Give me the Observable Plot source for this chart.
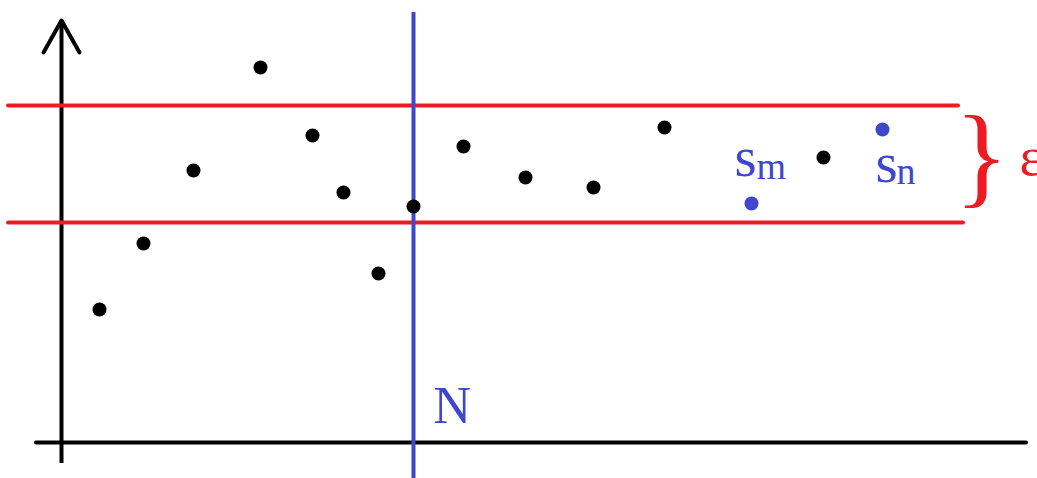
<!DOCTYPE html>
<html>
<head>
<meta charset="utf-8">
<script src="https://cdn.jsdelivr.net/npm/d3@7"></script>
<script src="https://cdn.jsdelivr.net/npm/@observablehq/plot@0.6"></script>
<style>
  html, body { margin: 0; padding: 0; background: #fff; }
  #chart svg { display: block; }
</style>
</head>
<body>
<div id="chart"></div>
<script>
// Sequence terms (position n, value s_n) in chart units (x-axis at value 0)
const seqN = [99, 143, 193, 260, 312, 343, 378, 413, 463, 525, 593, 664, 823];
const seqS = [133, 199, 272, 375, 307, 250, 169, 236, 296, 265, 255, 315, 285];

// Highlighted terms s_m and s_n
const hiLabels = ["s_m", "s_n"];
const hiN = [751, 882];
const hiS = [239, 313];

// Epsilon band (upper and lower limits)
const bandValues = [337, 220];
const bandStart = [8, 8];
const bandEnd = [958, 963];

// Index N
const indexN = 413;

// Axis extents
const xAxisRange = [36, 1026];
const yAxisRange = [-21, 422];
const arrowHead = [[43, 390], [61, 422], [79, 390]];

// Annotation anchors
const nLabel = {text: "N", x: 433, y: 20};
const mainLetters = [{t: "s", x: 734, y: 267}, {t: "s", x: 875, y: 261}];
const subLetters = [{t: "m", x: 756, y: 264}, {t: "n", x: 896, y: 259}];
const braceLabel = {text: "}", x: 981, y: 250};
const epsLabel = {text: "ε", x: 1019, y: 268};

const red = "#ed1c24";
const blue = "#3f48cc";
const serif = "'Liberation Serif', 'DejaVu Serif', serif";

const seq = seqN.map((n, i) => ({n, s: seqS[i]}));
const hi = hiN.map((n, i) => ({n, s: hiS[i], label: hiLabels[i]}));
const bands = bandValues.map((v, i) => ({v, x1: bandStart[i], x2: bandEnd[i]}));
const arrow = arrowHead.map(([x, y]) => ({x, y}));

const chart = Plot.plot({
  width: 1037,
  height: 478,
  margin: 0,
  x: {domain: [0, 1037], axis: null},
  y: {domain: [-36, 442], axis: null},
  style: {background: "#fff"},
  marks: [
    // axes
    Plot.ruleY([0], {x1: xAxisRange[0], x2: xAxisRange[1], stroke: "black", strokeWidth: 4, strokeLinecap: "round"}),
    Plot.ruleX([61], {y1: yAxisRange[0], y2: yAxisRange[1], stroke: "black", strokeWidth: 4}),
    Plot.line(arrow, {x: "x", y: "y", stroke: "black", strokeWidth: 4, strokeLinecap: "round", strokeLinejoin: "round"}),
    // epsilon band
    Plot.ruleY(bands, {y: "v", x1: "x1", x2: "x2", stroke: red, strokeWidth: 4, strokeLinecap: "round"}),
    // index N
    Plot.ruleX([indexN], {y1: -36, y2: 430, stroke: blue, strokeWidth: 4}),
    // sequence
    Plot.dot(seq, {x: "n", y: "s", r: 7, fill: "black"}),
    Plot.dot(hi, {x: "n", y: "s", r: 7, fill: blue}),
    // labels
    Plot.text([nLabel], {x: "x", y: "y", text: "text", fill: blue, fontSize: 52, fontFamily: serif, textAnchor: "start", lineAnchor: "bottom"}),
    Plot.text(mainLetters, {x: "x", y: "y", text: "t", fill: blue, fontSize: 57, fontFamily: serif, textAnchor: "start", lineAnchor: "bottom"}),
    Plot.text(subLetters, {x: "x", y: "y", text: "t", fill: blue, fontSize: 38, fontFamily: serif, textAnchor: "start", lineAnchor: "bottom"}),
    Plot.text([braceLabel], {x: "x", y: "y", text: "text", fill: red, stroke: "white", strokeWidth: 3.5, fontSize: 112, fontFamily: serif, textAnchor: "middle", lineAnchor: "bottom"}),
    Plot.text([epsLabel], {x: "x", y: "y", text: "text", fill: red, fontSize: 54, fontFamily: serif, textAnchor: "start", lineAnchor: "bottom"})
  ]
});
document.getElementById("chart").appendChild(chart);
</script>
</body>
</html>
